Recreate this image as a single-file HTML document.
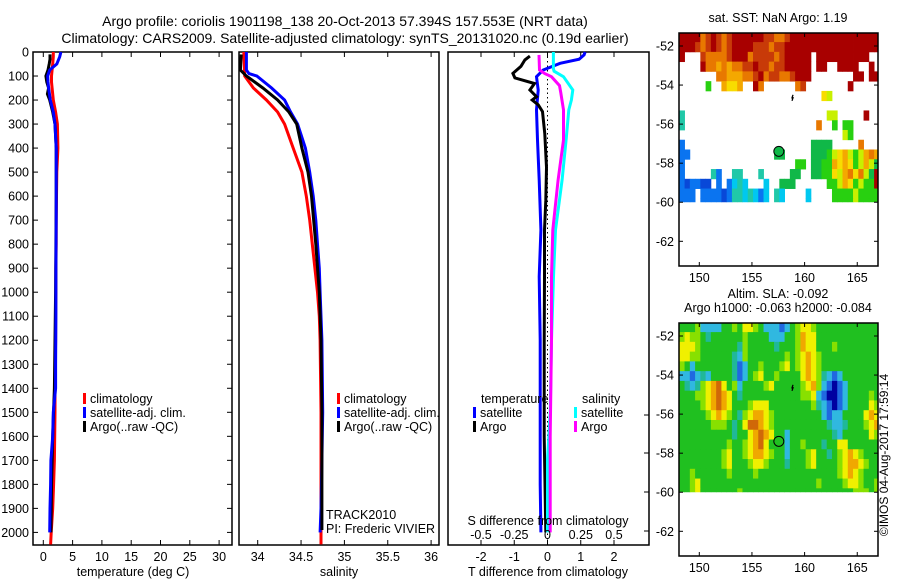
<!DOCTYPE html>
<html><head><meta charset="utf-8"><style>
body{margin:0;background:#fff}
svg{display:block;font-family:"Liberation Sans",sans-serif}
</style></head><body>
<svg id="fig" width="900" height="580" viewBox="0 0 900 580"></svg>
<script>
// ---------- data ----------
const tDepth = [0,20,50,75,100,125,150,200,250,300,400,500,600,700,800,900,1000,1100,1200,1300,1400,1500,1600,1700,1800,1900,2000,2050];
const tClim  = [1.7,1.7,1.6,1.5,1.4,1.4,1.5,1.7,2.1,2.4,2.5,2.3,2.25,2.2,2.2,2.15,2.15,2.1,2.1,2.05,2.0,2.0,1.95,1.9,1.75,1.6,1.35,1.25];
const tSatDepth = [0,20,50,75,100,125,150,200,250,300,400,500,700,900,1100,1300,1400,1500,1600,1700,1800,1900,2000];
const tSat   = [3.0,2.8,2.3,1.1,0.75,0.8,0.9,1.2,1.7,2.0,2.2,2.2,2.2,2.15,2.15,2.1,2.1,1.7,1.6,1.3,1.25,1.15,1.1];
const tArgoDepth = [10,30,50,75,100,125,150,175,200,250,300,400,600,800,1000,1200,1400,1600,1800,2000];
const tArgo  = [1.15,1.15,1.0,0.8,0.45,0.6,0.9,0.7,1.1,1.6,2.0,2.2,2.2,2.15,2.1,2.0,1.9,1.6,1.4,1.3];

const sDepth = [0,100,150,200,250,300,400,500,600,700,800,900,1000,1100,1200,1500,2050];
const sClim  = [33.84,33.85,33.95,34.10,34.23,34.31,34.41,34.51,34.56,34.60,34.63,34.66,34.69,34.71,34.72,34.73,34.73];
const sSatDepth = [0,75,90,100,150,200,250,300,400,500,600,700,800,900,1000,1200,1500,1700,1900,2000];
const sSat   = [33.87,33.87,33.9,33.99,34.16,34.31,34.38,34.46,34.55,34.60,34.64,34.67,34.69,34.71,34.72,34.74,34.75,34.74,34.73,34.72];
const sArgoDepth = [10,75,100,150,200,250,300,400,500,600,800,1000,1200,1500,1990];
const sArgo  = [33.81,33.80,33.87,34.06,34.23,34.36,34.45,34.51,34.58,34.62,34.67,34.71,34.73,34.74,34.74];

const dTSatDepth = [0,12,30,47,75,103,158,241,366,533,741,935,1200,1400,1800,2000];
const dTSat  = [1.13,1.1,0.95,0.38,-0.13,-0.33,-0.28,-0.33,-0.3,-0.25,-0.2,-0.25,-0.22,-0.22,-0.22,-0.2];
const dTArgoDepth = [17,33,60,89,108,131,158,186,200,220,248,341,480,619,741,935,1200,1600,2000];
const dTArgo = [-0.53,-0.68,-0.8,-1.04,-0.98,-0.39,-0.53,-0.33,-0.46,-0.28,-0.15,-0.08,-0.03,-0.05,-0.09,-0.09,-0.1,-0.1,-0.05];
const dSSatDepth = [0,70,80,103,158,200,241,366,533,741,935,1200,1500,1700,2000];
const dSSat  = [0.044,0.044,0.05,0.12,0.19,0.18,0.16,0.14,0.11,0.06,0.045,0.03,0.02,0.0,0.0];
const dSArgoDepth = [12,75,90,103,140,170,241,366,533,741,935,1200,1600,2000];
const dSArgo = [-0.064,-0.06,-0.02,0.03,0.09,0.1,0.12,0.12,0.08,0.04,0.03,0.03,0.02,0.02];

const depthTicks = [0,100,200,300,400,500,600,700,800,900,1000,1100,1200,1300,1400,1500,1600,1700,1800,1900,2000];
const tTicks = [0,5,10,15,20,25,30];
const sTicks = [34,34.5,35,35.5,36];
const dTTicks = [-2,-1,0,1,2];
const dSTicks = [-0.5,-0.25,0,0.25,0.5];
const latTicks = [-52,-54,-56,-58,-60,-62];
const lonTicks = [150,155,160,165];

// SST grid (0.5 deg cells, from 148.1E, -51.3 southward)
const sstRows = [
"RRRRorRrorRRRRRRrroorRRRRRRRRRRRRRRRRR",
"RRRrorRrorRRRRrrrorrRRRRRRRRRRRRRRRRRR",
"R...roooorRRRorrrrorRRRRR.RRRRRRRRRR..",
"....RooOoOoorrRrrorrRRRRR.RR..RRRR..R.",
".......ooOOOoorRorroorRRR........RR.RR.",
".....g..OyyO..Ro......or........R......",
"...........................yl.........",
"......................................",
"t...........................ll.....R..",
"t.........................o..g.gg.....",
"...............................lg.....",
"b........................GGGG.....o...",
"bb................GG.....GGGglyOlglOoO",
"b.....................gg.GGggOyOyglOlG",
"b.....tb..tt...t.....GG..GGggylOoyolGR",
"bBbbBB.b.bctc...c..GGG......gglOyglggR",
"bbb.bbbbBbttctcbc.tc....c....gggglgggg",
"bbb.bbbbBbttctcbc.tc....c....gggglgggg"];
// SLA grid
const slaRows = [
"GGGgccccGGgGyygGcccbcGgyygGGGGGGGGGGGG",
"gyggGtGGGGGGgGGGGcccGGgoyyGGGGGGGGGGGG",
"yyygGGGGGGGtgGGGGGtGGGgoyyGGGgGGGGGGGG",
"yyggGGGGGGtcgGGGGGGGgGgyoygGGGGGGGGGGG",
"gGcGGGGGGGtbcGGgGGGgyGgyoygGGGGGGGGGGG",
"ccbctcGGGGtbcGgyGGgGGGGyoygtcbcGGGGGGG",
"GtctgyoOyGgcGGGGgyGGGGGgyogcbBbcGGGGGG",
"GGGggyoOoyGtGGGGGGGGGGGggycbBBbcGGGGgG",
"GGGGgyoOoyGGGgyyyGGGGGGGGgtcbBbcGGGGyg",
"GGGGGgyoygGtgyooygGGGGGGGGGcbccGGGGyoy",
"GGGGGGgggGtGyOOoygGGGGGGGGGGtcctGGGgyo",
"GGGGGGGGGGtGGyoOoyGGcGGGGGGGGtcGGGGGyg",
"GGGGGGGGGgGGgyoOyGGGcGGgGGGtGGyyGGGGGG",
"GGGGGGGGgyGGgyooygGGcGGGgyGGtGgyoygGGG",
"GGGGGGGGgyGGGgyygGGGtGGGgyGGGGgyooygGG",
"GGgGGGGGGgGGGGgGGGGGGGGGGGGGGGgyoygGGG",
"GGgyGGGGGGGGGGGGGGGGGGGGGGgGGGGgyygGGg",
"GGgyGGGGGGGgGGGGGGGGGGGGGGGGGGGGGgggGg"];
const sstColors = {R:"#a80000",r:"#c83a08",o:"#e87800",O:"#f4a800",y:"#f8dc00",l:"#c8f000",g:"#28d010",G:"#10b848",t:"#20c8a8",c:"#00c8f0",b:"#0a74f0",B:"#0848d8"};
const slaColors = {G:"#20c020",g:"#88e000",y:"#f0f000",o:"#f0a800",O:"#d06808",t:"#20b898",c:"#30b8e0",b:"#2068e0",B:"#0000a0"};

// ---------- helpers ----------
const NS="http://www.w3.org/2000/svg";
const svg=document.getElementById('fig');
function mk(tag,attrs,parent){const e=document.createElementNS(NS,tag);for(const k in attrs)e.setAttribute(k,attrs[k]);(parent||svg).appendChild(e);return e;}
function txt(x,y,s,anchor,size,parent){const t=mk('text',{x:x,y:y,'text-anchor':anchor||'middle','font-size':size||12.5,fill:'#000'},parent);t.textContent=s;return t;}

const PT=52, PB=545;
const yD=d=>PT+d*0.2402;

function panel(name,x0,x1,xScale,ticks,fmt){
  const g=mk('g',{});
  
  
  const r=mk('rect',{x:x0,y:PT,width:x1-x0,height:PB-PT,fill:'none',stroke:'#000','stroke-width':1.5},g);
  
  
  ticks.forEach(v=>{const x=xScale(v);
    mk('line',{x1:x,x2:x,y1:PB,y2:PB-5,stroke:'#000'},g);
    mk('line',{x1:x,x2:x,y1:PT,y2:PT+5,stroke:'#000'},g);
    const t=txt(x,PB+16,fmt(v),'middle',12.5,g);
    
    
  });
  return g;
}
function line(g,xs,ds,xScale,color,name){
  const pts=xs.map((v,i)=>xScale(v).toFixed(1)+','+yD(ds[i]).toFixed(1)).join(' ');
  const p=mk('polyline',{points:pts,fill:'none',stroke:color,'stroke-width':3,'stroke-linejoin':'miter'},g);
  
  
}
function legend(g,x,y,color,label){
  mk('rect',{x:x,y:y-10,width:3,height:11,fill:color},g);
  txt(x+7,y,label,'start',12.5,g);
}

// titles
let t=txt(345,26,'Argo profile: coriolis 1901198_138 20-Oct-2013 57.394S 157.553E (NRT data)','middle',14);


t=txt(345,43,'Climatology: CARS2009. Satellite-adjusted climatology: synTS_20131020.nc (0.19d earlier)','middle',14);



// ---------- panel 1 temperature ----------
const xT=v=>43.3+v*5.86;
const g1=panel('temperature-panel',33,232,xT,tTicks,v=>String(v));
depthTicks.forEach(d=>{const y=yD(d);
  mk('line',{x1:33,x2:38,y1:y,y2:y,stroke:'#000'},g1);
  mk('line',{x1:232,x2:227,y1:y,y2:y,stroke:'#000'},g1);
  const l=txt(29,y+4.5,String(d),'end',12.5,g1);
  
  
});
line(g1,tClim,tDepth,xT,'#ff0000','temp-climatology-line');
line(g1,tArgo,tArgoDepth,xT,'#000000','temp-argo-line');
line(g1,tSat,tSatDepth,xT,'#0000ff','temp-satellite-line');
t=txt(133,576,'temperature (deg C)','middle',12.5);


legend(g1,83,403,'#ff0000','climatology');
legend(g1,83,417,'#0000ff','satellite-adj. clim.');
legend(g1,83,431,'#000000','Argo(..raw -QC)');

// ---------- panel 2 salinity ----------
const xS=v=>257.7+(v-34)*86.7;
const g2=panel('salinity-panel',239,439,xS,sTicks,v=>String(v));
line(g2,sClim,sDepth,xS,'#ff0000','sal-climatology-line');
line(g2,sSat,sSatDepth,xS,'#0000ff','sal-satellite-line');
line(g2,sArgo,sArgoDepth,xS,'#000000','sal-argo-line');
t=txt(339,576,'salinity','middle',12.5);


legend(g2,337,403,'#ff0000','climatology');
legend(g2,337,417,'#0000ff','satellite-adj. clim.');
legend(g2,337,431,'#000000','Argo(..raw -QC)');
txt(326,519,'TRACK2010','start',12.5,g2);
txt(326,533,'PI: Frederic VIVIER','start',12.5,g2);

// ---------- panel 3 differences ----------
const xDT=v=>547.5+v*33.25;
const xDS=v=>547.5+v*133;
const g3=panel('difference-panel',448,649,xDT,dTTicks,v=>String(v));
mk('line',{x1:547.5,x2:547.5,y1:PT,y2:PB,stroke:'#000','stroke-dasharray':'1.5,3'},g3);
[415,453,492,531].forEach(y=>mk('line',{x1:649,x2:644,y1:y,y2:y,stroke:'#000'},g3));
line(g3,dTSat,dTSatDepth,xDT,'#0000ff','dT-satellite-line');
line(g3,dTArgo,dTArgoDepth,xDT,'#000000','dT-argo-line');
line(g3,dSSat,dSSatDepth,xDS,'#00ffff','dS-satellite-line');
line(g3,dSArgo,dSArgoDepth,xDS,'#ff00ff','dS-argo-line');
dSTicks.forEach(v=>{const l=txt(xDS(v),539,String(v),'middle',12.5,g3);
  
  });
txt(548,525,'S difference from climatology','middle',12.5,g3);
t=txt(548,576,'T difference from climatology','middle',12.5);


txt(481,403,'temperature','start',12.5,g3);
legend(g3,473,417,'#0000ff','satellite');
legend(g3,473,431,'#000000','Argo');
txt(582,403,'salinity','start',12.5,g3);
legend(g3,574,417,'#00ffff','satellite');
legend(g3,574,431,'#ff00ff','Argo');

// ---------- maps ----------
const LON0=148.1,LATTOP=-51.3;
function map(name,top,latPix52,rows,colors,title1,title2,markerFill){
  const g=mk('g',{});
  
  
  const x0=679,x1=878,bottom=top+233;
  const xL=lon=>699.3+(lon-150)*10.53;
  const yL=lat=>latPix52+(-52-lat)*19.53;
  const clipId=name+'-clip';
  const cp=mk('clipPath',{id:clipId},g);
  mk('rect',{x:x0,y:top,width:x1-x0,height:yL(-60)-top},cp);
  const cells=mk('g',{'clip-path':'url(#'+clipId+')'},g);
  rows.forEach((row,r)=>{for(let c=0;c<row.length;c++){const ch=row[c];if(!colors[ch])continue;
    const lonA=LON0+c*0.5, latA=LATTOP-r*0.5;
    const cell=mk('rect',{x:xL(lonA).toFixed(2),y:yL(latA).toFixed(2),width:(0.5*10.53+0.4).toFixed(2),height:(0.5*19.53+0.4).toFixed(2),fill:colors[ch]},cells);
    
    
  }});
  mk('rect',{x:x0,y:top,width:x1-x0,height:bottom-top,fill:'none',stroke:'#000','stroke-width':1.5},g);
  latTicks.forEach(v=>{const y=yL(v);
    mk('line',{x1:x0,x2:x0+4,y1:y,y2:y,stroke:'#000'},g);
    mk('line',{x1:x1,x2:x1-4,y1:y,y2:y,stroke:'#000'},g);
    txt(674,y+4.5,String(v),'end',12.5,g);});
  lonTicks.forEach(v=>{const x=xL(v);
    mk('line',{x1:x,x2:x,y1:bottom,y2:bottom-4,stroke:'#000'},g);
    mk('line',{x1:x,x2:x,y1:top,y2:top+4,stroke:'#000'},g);
    txt(x,bottom+16,String(v),'middle',12.5,g);});
  const mkr=mk('circle',{cx:xL(157.553),cy:yL(-57.394),r:5,fill:markerFill,stroke:'#000','stroke-width':1},g);
  
  
  mk('path',{d:`M${xL(158.9)} ${yL(-54.5)} l-1 3 l1 0 l-1 3`,stroke:'#000','stroke-width':1.3,fill:'none'},g);
  if(title1){const a=txt(778,title2?top-25:top-11,title1,'middle',12.5,g);}
  if(title2){txt(778,top-11,title2,'middle',12.5,g);}
}
map('sst-map',33,46,sstRows,sstColors,'sat. SST: NaN Argo: 1.19',null,'#10b848');
map('sla-map',323,336,slaRows,slaColors,'Altim. SLA: -0.092','Argo h1000: -0.063 h2000: -0.084','none');

t=txt(0,0,'©IMOS 04-Aug-2017 17:59:14','middle',12);
t.setAttribute('transform','translate(888,455) rotate(-90)');


</script>
</body></html>
